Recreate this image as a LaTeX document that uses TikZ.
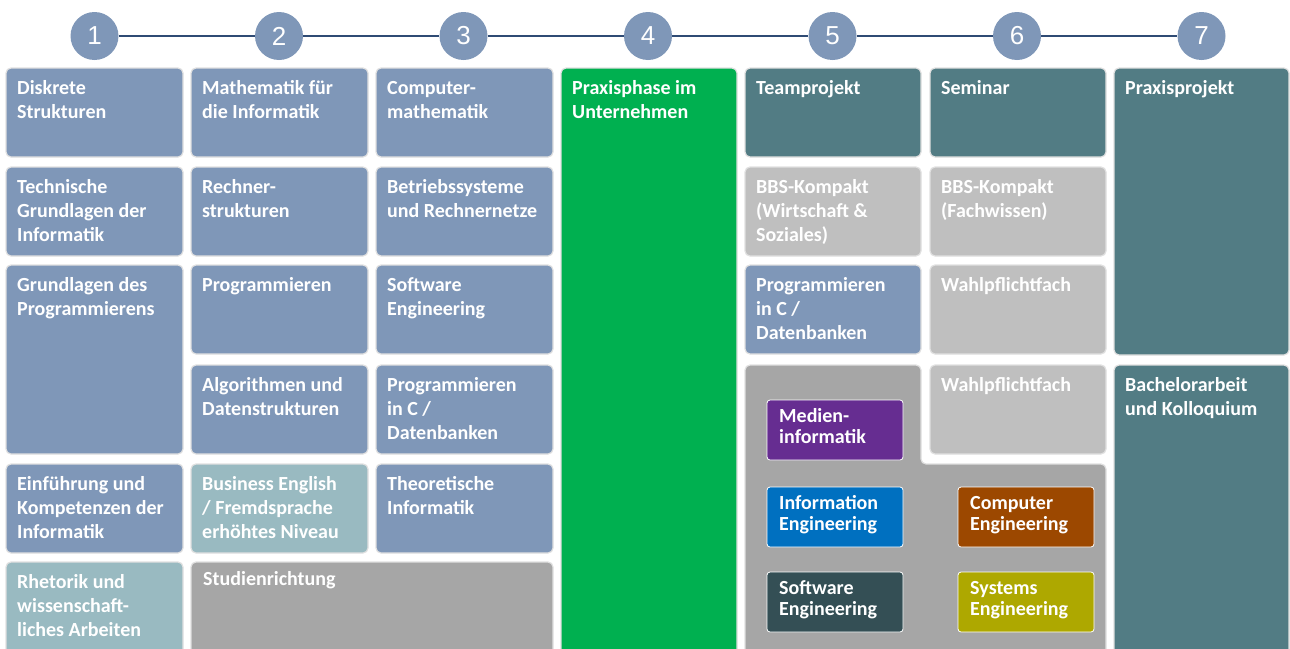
\documentclass[tikz,border=0pt]{standalone}
\usepackage{fontspec}
\setmainfont{Carlito}
\newfontfamily\ziffernfont{Liberation Sans}
\usepackage{xcolor}

\definecolor{blaugrau}{RGB}{127,151,184}
\definecolor{hellteal}{RGB}{153,186,193}
\definecolor{dunkelteal}{RGB}{82,124,132}
\definecolor{hellgrau}{RGB}{191,191,191}
\definecolor{mittelgrau}{RGB}{166,166,166}
\definecolor{praxisgruen}{RGB}{0,176,80}
\definecolor{medienlila}{RGB}{102,45,145}
\definecolor{infoblau}{RGB}{0,112,192}
\definecolor{compbraun}{RGB}{156,72,0}
\definecolor{softschiefer}{RGB}{52,79,85}
\definecolor{sysoliv}{RGB}{174,168,0}
\definecolor{linienblau}{RGB}{47,75,116}

\begin{document}
\begin{tikzpicture}[x=1pt, y=-1pt,
  fach/.style={draw=black!12, line width=1.2pt, rounded corners=5pt},
  fachtext/.style={anchor=north west, inner sep=0pt, align=left, text=white,
    font=\fontsize{20}{24}\selectfont\bfseries},
  richtung/.style={draw=white, line width=0.8pt, rounded corners=3pt},
  richtungtext/.style={anchor=north west, inner sep=0pt, align=left, text=white,
    font=\fontsize{20}{21}\selectfont\bfseries},
  semester/.style={circle, fill=blaugrau, minimum size=48pt, inner sep=0pt,
    text=white, font=\ziffernfont\fontsize{26}{26}\selectfont},
  zeitlinie/.style={draw=linienblau, line width=2pt}]
  \useasboundingbox (0,0) rectangle (1290,648);
  \clip (0,0) rectangle (1290,648);

  % Semester
  \foreach \i in {1,...,7}
    \node[semester] (n\i) at ({94.5+184.5*(\i-1)}, 36) {\i};
  \foreach \i/\j in {1/2,2/3,3/4,4/5,5/6,6/7}
    \draw[zeitlinie] (n\i) -- (n\j);

  % Spalte 1
  \filldraw[fach, fill=blaugrau] (6,68) rectangle ++(177,89);
  \node[fachtext] (diskret) at (17,77) {\strut Diskrete\\Strukturen};
  \filldraw[fach, fill=blaugrau] (6,167) rectangle ++(177,89);
  \node[fachtext] (techgrund) at (17,176) {\strut Technische\\Grundlagen der\\Informatik};
  \filldraw[fach, fill=blaugrau] (6,265) rectangle ++(177,189);
  \node[fachtext] (grundprog) at (17,274) {\strut Grundlagen des\\Programmierens};
  \filldraw[fach, fill=blaugrau] (6,464) rectangle ++(177,89);
  \node[fachtext] (einf) at (17,473) {\strut Einführung und\\Kompetenzen der\\Informatik};
  \filldraw[fach, fill=hellteal] (6,562) rectangle ++(177,110);
  \node[fachtext] (rhetorik) at (17,571) {\strut Rhetorik und\\wissenschaft-\\liches Arbeiten};

  % Spalte 2
  \filldraw[fach, fill=blaugrau] (191,68) rectangle ++(177,89);
  \node[fachtext] (mathe) at (202,77) {\strut Mathematik für\\die Informatik};
  \filldraw[fach, fill=blaugrau] (191,167) rectangle ++(177,89);
  \node[fachtext] (rechner) at (202,176) {\strut Rechner-\\strukturen};
  \filldraw[fach, fill=blaugrau] (191,265) rectangle ++(177,89);
  \node[fachtext] (prog) at (202,274) {\strut Programmieren};
  \filldraw[fach, fill=blaugrau] (191,365) rectangle ++(177,89);
  \node[fachtext] (algo) at (202,374) {\strut Algorithmen und\\Datenstrukturen};
  \filldraw[fach, fill=hellteal] (191,464) rectangle ++(177,89);
  \node[fachtext] (english) at (202,473) {\strut Business English\\/ Fremdsprache\\erhöhtes Niveau};
  \filldraw[fach, fill=mittelgrau] (191,562) rectangle ++(362,110);
  \node[fachtext] (studrichtung) at (203,568) {\strut Studienrichtung};

  % Spalte 3
  \filldraw[fach, fill=blaugrau] (376,68) rectangle ++(177,89);
  \node[fachtext] (compmathe) at (387,77) {\strut Computer-\\mathematik};
  \filldraw[fach, fill=blaugrau] (376,167) rectangle ++(177,89);
  \node[fachtext] (betrieb) at (387,176) {\strut Betriebssysteme\\und Rechnernetze};
  \filldraw[fach, fill=blaugrau] (376,265) rectangle ++(177,89);
  \node[fachtext] (softeng) at (387,274) {\strut Software\\Engineering};
  \filldraw[fach, fill=blaugrau] (376,365) rectangle ++(177,89);
  \node[fachtext] (progc) at (387,374) {\strut Programmieren\\in C /\\Datenbanken};
  \filldraw[fach, fill=blaugrau] (376,464) rectangle ++(177,89);
  \node[fachtext] (theo) at (387,473) {\strut Theoretische\\Informatik};

  % Spalte 4
  \filldraw[fach, fill=praxisgruen] (561,68) rectangle ++(176,610);
  \node[fachtext] (praxisphase) at (572,77) {\strut Praxisphase im\\Unternehmen};

  % Spalte 5 und 6
  \filldraw[fach, fill=dunkelteal] (745,68) rectangle ++(176,89);
  \node[fachtext] (team) at (756,77) {\strut Teamprojekt};
  \filldraw[fach, fill=hellgrau] (745,167) rectangle ++(176,89);
  \node[fachtext] (bbswirt) at (756,176) {\strut BBS-Kompakt\\(Wirtschaft \&\\Soziales)};
  \filldraw[fach, fill=blaugrau] (745,265) rectangle ++(176,89);
  \node[fachtext] (progc2) at (756,274) {\strut Programmieren\\in C /\\Datenbanken};
  \filldraw[fach, fill=dunkelteal] (930,68) rectangle ++(176,89);
  \node[fachtext] (seminar) at (941,77) {\strut Seminar};
  \filldraw[fach, fill=hellgrau] (930,167) rectangle ++(176,89);
  \node[fachtext] (bbsfach) at (941,176) {\strut BBS-Kompakt\\(Fachwissen)};
  \filldraw[fach, fill=hellgrau] (930,265) rectangle ++(176,89);
  \node[fachtext] (wahl1) at (941,274) {\strut Wahlpflichtfach};
  \filldraw[fach, fill=hellgrau] (930,365) rectangle ++(176,89);
  \node[fachtext] (wahl2) at (941,374) {\strut Wahlpflichtfach};

  % Studienrichtungen
  \filldraw[fach, fill=mittelgrau] (745,365) -- (921,365) -- (921,464) -- (1106,464)
    -- (1106,680) -- (745,680) -- cycle;
  \filldraw[richtung, fill=medienlila] (767,400) rectangle ++(136,60);
  \node[richtungtext] (medien) at (779,408) {\strut Medien-\\informatik};
  \filldraw[richtung, fill=infoblau] (767,487) rectangle ++(136,60);
  \node[richtungtext] (infoeng) at (779,495) {\strut Information\\Engineering};
  \filldraw[richtung, fill=compbraun] (958,487) rectangle ++(136,60);
  \node[richtungtext] (compeng) at (970,495) {\strut Computer\\Engineering};
  \filldraw[richtung, fill=softschiefer] (767,572) rectangle ++(136,60);
  \node[richtungtext] (softeng2) at (779,580) {\strut Software\\Engineering};
  \filldraw[richtung, fill=sysoliv] (958,572) rectangle ++(136,60);
  \node[richtungtext] (syseng) at (970,580) {\strut Systems\\Engineering};

  % Spalte 7
  \filldraw[fach, fill=dunkelteal] (1114,68) rectangle ++(175,287);
  \node[fachtext] (praxisprojekt) at (1125,77) {\strut Praxisprojekt};
  \filldraw[fach, fill=dunkelteal] (1114,365) rectangle ++(175,310);
  \node[fachtext] (bachelor) at (1125,374) {\strut Bachelorarbeit\\und Kolloquium};
\end{tikzpicture}
\end{document}
